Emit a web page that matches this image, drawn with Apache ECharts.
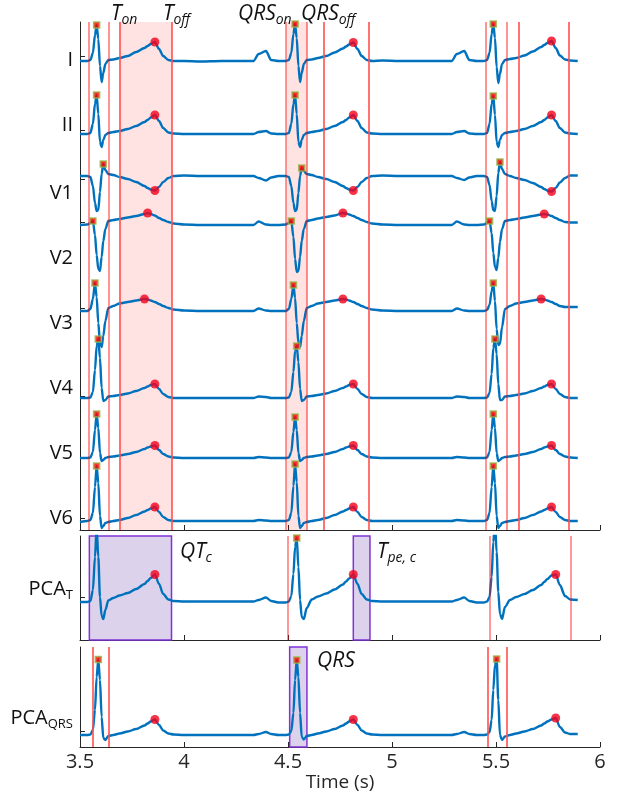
<!DOCTYPE html>
<html>
<head>
<meta charset="utf-8">
<script src="https://cdn.jsdelivr.net/npm/echarts@6.0.0/dist/echarts.min.js"></script>
<style>
html,body{margin:0;padding:0;background:#fff;}
#chart{width:618px;height:795px;}
</style>
</head>
<body>
<div id="chart"></div>
<script>
// ---- sample times (s), shared by all traces ----
const time = [
  3.500,3.535,3.550,3.562,3.572,3.580,3.588,3.596,3.604,3.612,3.622,3.636,3.660,3.690,3.730,3.770,3.810,3.825,3.840,3.860,3.880,3.900,3.925,3.950,4.000,4.080,4.180,4.280,
  4.334,4.359,4.394,4.419,4.454,4.489,4.504,4.516,4.526,4.534,4.542,4.550,4.558,4.566,4.576,4.590,4.614,4.644,4.684,4.724,4.764,4.779,4.794,4.814,4.834,4.854,4.879,4.904,4.954,5.034,5.134,5.234,
  5.287,5.312,5.347,5.372,5.407,5.442,5.457,5.469,5.479,5.487,5.495,5.503,5.511,5.519,5.529,5.543,5.567,5.597,5.637,5.677,5.717,5.732,5.747,5.767,5.787,5.807,5.832,5.857,5.893
];

// ---- lead amplitudes (units of 25 uV, relative to each lead's baseline) ----
const leadI = [
  0,0,1,8,26,36,22,-5,-21,-12,-3,1,1.5,3,5,9,13,15,17,19,12,5,1,0,0,-0.5,0,0,
  0,7,10,1,0,0,1,8,27,37,23,-5,-21,-12,-3,1,1.5,3,5,8.5,12.5,14.5,16.5,18.5,12,5,1,0,0.5,0,0,0,
  0,7,10,1,0,0,1,8,27,37,23,-6,-22,-13,-3,1,2,3,5.5,9.5,14,16,18,20,13,5.5,1.5,0.5,0
];
const leadII = [
  0,0,1,10,30,39,20,-8,-13,-6,-1,1,2,3,5,8,12,14,16.5,19,13,6,1.5,0.5,0,0,0,0,
  0,2,3,0.5,0,0,1,10,30,39,20,-8,-13,-6,-1,1,2,3,5,8,12,14,16.5,19,13,6,1.5,0.5,0,0,0,0,
  0,2,3,0.5,0,0,1,10,30,38,19,-8,-13,-6,-1,1,2,3,5,8,12,14,16.5,19,13,6,1.5,0.5,0
];
const leadV1 = [
  0,0,-1,-10,-27,-35,-34,-16,2,12,6,2,1,-1,-3,-6,-10,-12,-13.5,-14.5,-11,-6,-2,0,0.5,0,0,0,
  0,-2,-4.5,-1.5,0,0,-1,-10,-27,-35,-34,-17,0,8,5,2,1,-1,-3,-6,-10,-12,-13.5,-14.5,-11,-6,-2,0,0.5,0,0,0,
  0,-2,-4,-1.5,0,0,-1,-9,-25,-34,-35,-20,3,14,7,2,0,-2,-4,-7,-11,-13,-14.5,-15.5,-12,-6.5,-2,0.5,0.5
];
const leadV2 = [
  0,0.5,2,4,-10,-30,-44,-46,-32,-16,-4,4,5,6,7.5,9,11,12,11,9.5,7,5,3,1.5,0.5,0,0,0,
  0,3.5,0.5,0,0,0.5,2,4,-12,-34,-47,-46,-32,-16,-4,4,5,6.5,8,9.5,12,11.5,10.5,9,7,5,3,1.5,0.5,0,0,0,
  0,3.5,0.5,0,0,0.5,2,4,-8,-28,-42,-45,-33,-17,-4,4,5,6,7.5,9,10.5,11,10.5,9,7,5,3,2.5,2.5
];
const leadV3 = [
  0,0,2,12,28,14,-12,-32,-36,-25,-10,3,5,7.5,9,10.5,12,11.5,10.5,9,7,5,3,1.5,0.5,0,0,0,
  0,2.5,0.5,0,0,0,2,12,26,13,-12,-32,-36,-25,-10,3,5,7.5,9,10.5,12,11.5,10.5,9,7,5,3,1.5,0.5,0,0,0,
  0,2.5,0.5,0,0,0,1,6,20,28,10,-18,-34,-33,-16,2,5,7.5,9,10.5,12,11.5,10.5,9,7,5,4,4,4
];
const leadV4 = [
  0,0,0.5,6,28,52,59,40,10,-3,-2,1.5,2,3,4.5,7,10,11.5,13,14,9,4,1,0,0,0,0,0,
  0,1.5,1,0,0,0,0.5,6,26,47,52,36,9,-3,-2,1.5,2,3,4.5,7,10,11.5,13,14,9,4,1,0,0,0,0,0,
  0,1.5,1,0,0,0,0.5,5,24,50,59,44,14,-2,-2,1.5,2,3,4.5,7,10,11.5,13,14,9,4,1,0,0
];
const leadV5 = [
  0,0,0.5,6,28,44,30,5,-3,-2,0,1,1.5,2.5,4,6,9,10.5,11.5,12.5,8,4,1.5,0.5,0,0,0,0,
  0,1,0.5,0,0,0,0.5,6,26,41,28,5,-3,-2,0,1,1.5,2.5,4,6,9,10.5,11.5,12.5,8,4,1.5,0.5,0,0,0,0,
  0,1,0.5,0,0,0,0.5,6,28,44,30,5,-3,-2,0,1,1.5,2.5,4,6,9,10.5,11.5,12.5,8,4,1.5,0.5,0
];
const leadV6 = [
  -1,0,1,8,34,55,38,5,-7,-5,-2,-1,0,1,3,6,9.5,11,12.5,14,9,4,1,0,0,0,0,0,
  0,1,0.5,0,0,0,1,8,35,57,39,5,-7,-5,-2,-1,0,1,3,6,9.5,11,12.5,14,9,4,1,0,0,0,0,0,
  0,1,0.5,0,0,0,1,8,34,55,38,5,-7,-5,-2,-1,0,1,3,6,9.5,11,12.5,14,9,4,1,0,0
];
const pcaT = [
  0,0,1,12,45,75,45,5,-14,-17,-8,1.5,4,6.5,9,13,18,21,24,27.5,18,8,2.5,1,0.5,0.5,0.5,0.5,
  0.5,2,4.5,1,-0.5,-0.5,0.5,6,28,55,64,35,2,-15,-17,-6,2.5,5.5,8.5,12.5,17.5,20.5,23.5,27.5,18,8,2.5,1,0.5,0.5,0.5,0.5,
  0.5,2,4.5,1,-0.5,-0.5,0.5,5,25,60,80,50,10,-12,-17,-5,2,5,8,12,17,20,23,26.5,27.5,17,6,2.5,2
];
const pcaQRS = [
  0,0,0.5,5,25,58,75.5,55,18,-3,-5,-1,0,1.5,3.5,6,9.5,11.5,13.5,15.5,10,4.5,1.5,0.5,0,0,0,0,
  0,1,3,1,0,0,0.5,4,22,55,75,58,22,-2,-4.5,-1,0,1.5,3.5,6,9.5,11.5,13.5,15.5,10,4.5,1.5,0.5,0,0,0,0,
  0,1,3,1,0,0,0.5,3,15,45,70,76,35,0,-5,-1.5,0,1.5,3.5,6,9.5,11.5,13.5,15.5,17,8,2.5,1,1
];

// ---- lead stacking ----
const leadNames   = ['I','II','V1','V2','V3','V4','V5','V6'];
const leadData    = [leadI, leadII, leadV1, leadV2, leadV3, leadV4, leadV5, leadV6];
const leadOffsets = [469, 396, 354, 305, 219, 132, 72, 9];
const leadTicks   = [474, 400, 351, 308, 222, 134, 73, 12];
const leadLabelAt = [470, 405, 337, 272, 207, 142, 77, 12];
// sample indices of detected R peaks (squares) and T peaks (dots)
const leadRIdx = [[5,37,69],[5,37,69],[9,41,73],[3,35,67],[4,36,69],[6,38,70],[5,37,69],[5,37,69]];
const leadTIdx = [[19,51,83],[19,51,83],[19,51,83],[17,48,81],[16,48,80],[19,51,83],[19,51,83],[19,51,83]];
const pcaTOffset = 38, pcaTTick = 43, pcaTLabelAt = 51;
const pcaTRIdx = [38], pcaTTIdx = [19,51,84];
const pcaQOffset = 12, pcaQTick = 16, pcaQLabelAt = 29;
const pcaQRIdx = [6,38,71], pcaQTIdx = [19,51,84];

// ---- fiducial times (s) ----
const qrsOnOff  = [3.535, 3.639, 4.494, 4.593, 5.447, 5.551];
const tOnOff    = [3.689, 3.941, 4.674, 4.891, 5.612, 5.852];
const shadeTop  = [[3.689, 3.941], [4.494, 4.593]];
const midLines  = [4.500, 5.466, 5.861];
const midBoxes  = [[3.545, 3.940], [4.814, 4.894]];
const botLines  = [3.555, 3.638, 5.465, 5.548];
const botBoxes  = [[4.508, 4.591]];

const FONT = '"Open Sans", "Noto Sans", sans-serif';
const AX = '#262626';
const BLUE = '#0072BD';

function trace(vals, off, gi) {
  return {
    type: 'line', xAxisIndex: gi, yAxisIndex: gi,
    data: time.map((t, i) => [t, off + vals[i]]),
    showSymbol: false, smooth: 0.3, smoothMonotone: 'x',
    lineStyle: { color: BLUE, width: 2.4 }, z: 3, silent: true, clip: true
  };
}
function rMarks(vals, off, idx, gi) {
  return {
    type: 'scatter', xAxisIndex: gi, yAxisIndex: gi,
    data: idx.map(i => [time[i], off + vals[i]]),
    symbol: 'rect', symbolSize: 6,
    itemStyle: { color: '#FF0000', borderColor: '#93B847', borderWidth: 1.6 },
    z: 5, silent: true
  };
}
function tMarks(vals, off, idx, gi) {
  return {
    type: 'scatter', xAxisIndex: gi, yAxisIndex: gi,
    data: idx.map(i => [time[i], off + vals[i]]),
    symbol: 'circle', symbolSize: 9,
    itemStyle: { color: '#F5001A' }, z: 5, silent: true
  };
}
// invisible carrier series holding vertical event lines of one style
function vlines(gi, times, color, width) {
  return {
    type: 'line', xAxisIndex: gi, yAxisIndex: gi, data: [[3.5, 0]],
    showSymbol: false, lineStyle: { opacity: 0 }, z: 2, silent: true, color: color,
    markLine: { symbol: ['none', 'none'], silent: true, animation: false, label: { show: false },
                emphasis: { disabled: true },
                lineStyle: { color: color, width: width, type: 'solid', opacity: 1 },
                data: times.map(t => ({ xAxis: t })) }
  };
}
function boxes(gi, ranges, fill, border) {
  return {
    type: 'line', xAxisIndex: gi, yAxisIndex: gi, data: [[3.5, 0]],
    showSymbol: false, lineStyle: { opacity: 0 }, z: 1, silent: true,
    markArea: { silent: true, animation: false,
                itemStyle: { color: fill, borderColor: border, borderWidth: border ? 1.5 : 0 },
                data: ranges.map(r => [{ xAxis: r[0] }, { xAxis: r[1] }]) }
  };
}

const PURPLE_FILL = 'rgba(125,80,180,0.26)', PURPLE_EDGE = '#8033D6';
const series = [];
series.push(boxes(0, shadeTop, 'rgba(255,0,0,0.11)', null));
series.push(vlines(0, qrsOnOff, 'rgba(255,0,0,0.42)', 2));
series.push(vlines(0, tOnOff, 'rgb(255,80,80)', 1.6));
series.push(boxes(1, midBoxes, PURPLE_FILL, PURPLE_EDGE));
series.push(vlines(1, midLines, 'rgba(255,0,0,0.5)', 1.6));
series.push(boxes(2, botBoxes, PURPLE_FILL, PURPLE_EDGE));
series.push(vlines(2, botLines, 'rgb(255,80,80)', 1.6));
leadData.forEach((v, k) => series.push(trace(v, leadOffsets[k], 0)));
leadData.forEach((v, k) => {
  series.push(rMarks(v, leadOffsets[k], leadRIdx[k], 0));
  series.push(tMarks(v, leadOffsets[k], leadTIdx[k], 0));
});
series.push(trace(pcaT, pcaTOffset, 1));
series.push(rMarks(pcaT, pcaTOffset, pcaTRIdx, 1));
series.push(tMarks(pcaT, pcaTOffset, pcaTTIdx, 1));
series.push(trace(pcaQRS, pcaQOffset, 2));
series.push(rMarks(pcaQRS, pcaQOffset, pcaQRIdx, 2));
series.push(tMarks(pcaQRS, pcaQOffset, pcaQTIdx, 2));

const subRich = {
  m: { fontSize: 20, fontFamily: FONT, fontWeight: 'normal', color: '#111', lineHeight: 26 },
  s: { fontSize: 13, fontFamily: FONT, fontWeight: 'normal', color: '#111', lineHeight: 14, padding: [12, 0, 0, 0] }
};
const itRich = {
  m: { fontSize: 21, fontStyle: 'italic', fontWeight: 'normal', fontFamily: FONT, color: '#111', lineHeight: 26 },
  s: { fontSize: 14, fontStyle: 'italic', fontWeight: 'normal', fontFamily: FONT, color: '#111', lineHeight: 14, padding: [12, 0, 0, 0] }
};
function note(text, left, top) {
  return { text: text, left: left, top: top, padding: 0,
           textStyle: { fontWeight: 'normal', fontStyle: 'italic', rich: itRich } };
}

function xAxis(gi, showLabels) {
  return {
    type: 'value', gridIndex: gi, min: 3.5, max: 6, interval: 0.5,
    axisLine: { show: true, onZero: false, lineStyle: { color: AX, width: 1 } },
    axisTick: { show: true, inside: true, length: 5, lineStyle: { color: AX } },
    axisLabel: { show: showLabels, fontSize: 20, fontFamily: FONT, color: AX, margin: 5,
                 formatter: v => String(v) },
    splitLine: { show: false },
    name: showLabels ? 'Time (s)' : '', nameLocation: 'middle', nameGap: 25,
    nameTextStyle: { fontSize: 19, fontFamily: FONT, color: AX }
  };
}
function yAxis(gi, min, max, ticks, labelsAt, fmt) {
  return {
    type: 'value', gridIndex: gi, min: min, max: max,
    axisLine: { show: true, lineStyle: { color: AX, width: 1 } },
    axisTick: { show: true, inside: true, length: 5, customValues: ticks, lineStyle: { color: AX } },
    axisLabel: { show: true, customValues: labelsAt, formatter: fmt, fontSize: 20, fontFamily: FONT,
                 color: '#111', margin: 7, rich: subRich },
    splitLine: { show: false }
  };
}

const option = {
  animation: false,
  backgroundColor: '#fff',
  title: [
    note('{m|T}{s|on}', 111, 1),
    note('{m|T}{s|off}', 163, 1),
    note('{m|QRS}{s|on}', 238, 1),
    note('{m|QRS}{s|off}', 301, 1),
    note('{m|QT}{s|c}', 180, 539),
    note('{m|T}{s|pe, c}', 377, 539),
    note('{m|QRS}', 317, 648)
  ],
  grid: [
    { left: 80, top: 22, width: 520, height: 508 },
    { left: 80, top: 536, width: 520, height: 104 },
    { left: 80, top: 647, width: 520, height: 100 }
  ],
  xAxis: [xAxis(0, false), xAxis(1, false), xAxis(2, true)],
  yAxis: [
    yAxis(0, 0, 508, leadTicks, leadLabelAt, v => leadNames[leadLabelAt.indexOf(v)] || ''),
    yAxis(1, 0, 104, [pcaTTick], [pcaTLabelAt], v => '{m|PCA}{s|T}'),
    yAxis(2, 0, 100, [pcaQTick], [pcaQLabelAt], v => '{m|PCA}{s|QRS}')
  ],
  series: series
};

const chart = echarts.init(document.getElementById('chart'), null, { renderer: 'canvas' });
chart.setOption(option);
</script>
</body>
</html>
